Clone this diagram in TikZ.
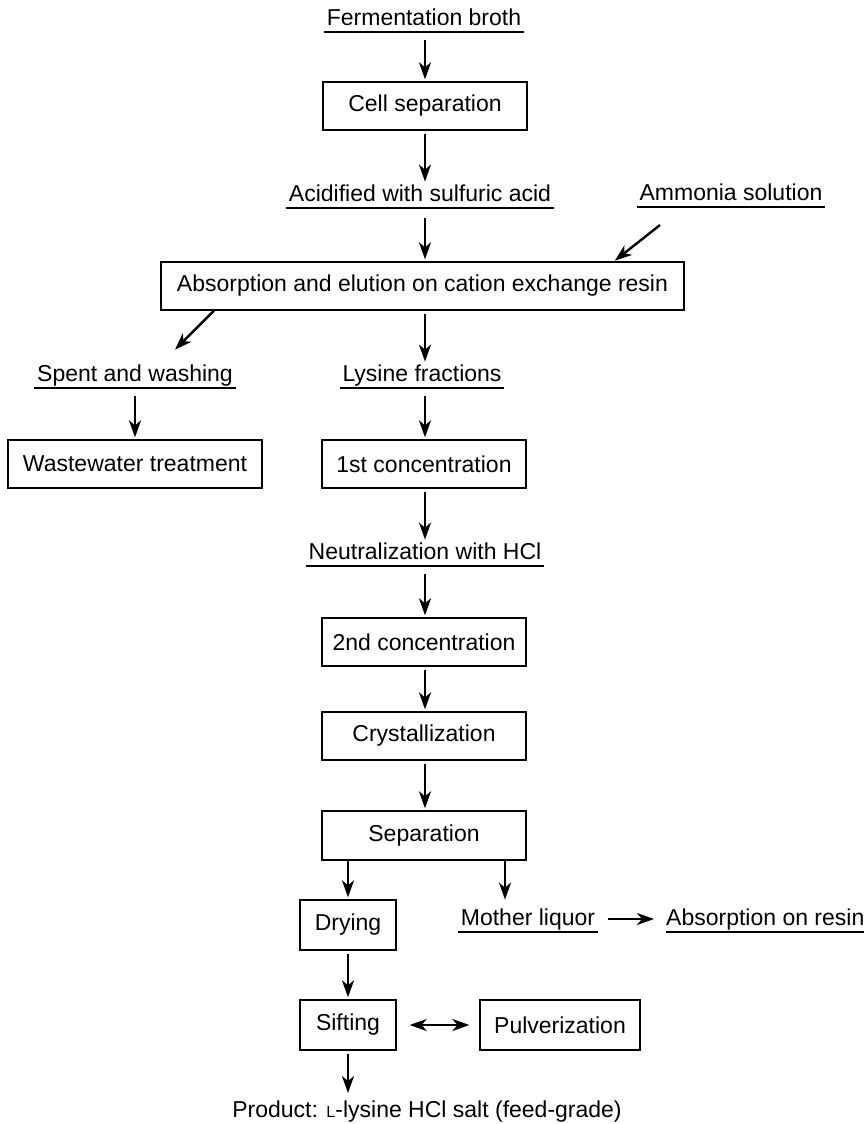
\documentclass[tikz,border=0pt]{standalone}
\usepackage{fontspec}
\setmainfont{Liberation Sans}
\usetikzlibrary{arrows.meta}

\tikzset{
    box/.style={draw, line width=1.3pt, minimum height=48pt, inner sep=0pt},
    ulabel/.style={anchor=south, inner xsep=2.5pt, inner ysep=1pt,
        text height=17pt, text depth=5pt,
        append after command={\pgfextra{\draw[line width=1.1pt]
            (\tikzlastnode.south west) -- (\tikzlastnode.south east);}}},
    tip/.tip={Stealth[length=17pt,width=12pt,inset=5pt]},
    flow/.style={-tip, line width=2.4pt, shorten <=3pt, shorten >=2pt},
    twoway/.style={tip-tip, line width=2.4pt},
}

\begin{document}
\begin{tikzpicture}[x=1pt, y=-1pt, font=\fontsize{23}{26}\selectfont]
    \useasboundingbox (0,0) rectangle (864,1124);

    % top part
    \node[ulabel] (broth) at (424,32) {Fermentation broth};
    \node[box, minimum width=204pt] (cell) at (425,106) {Cell separation};
    \node[ulabel] (acid) at (420,208) {Acidified with sulfuric acid};
    \node[ulabel] (amm) at (731,207) {Ammonia solution};
    \node[box, minimum width=523pt] (resin) at (422.5,286) {Absorption and elution on cation exchange resin};

    \draw[flow, shorten <=8pt] (broth.south -| cell.north) -- (cell.north);
    \draw[flow] (cell.south) -- (cell.south |- acid.north);
    \draw[flow, shorten <=10pt] (acid.south -| cell.south) -- (cell.south |- resin.north);
    \draw[flow, shorten <=0pt, shorten >=1pt] ([xshift=-71pt,yshift=-18pt]amm.south) -- ([xshift=191.5pt]resin.north);

    % resin outlets
    \node[ulabel] (spent) at (135,388) {Spent and washing};
    \node[box, minimum width=254pt] (waste) at (135,464) {Wastewater treatment};
    \node[ulabel] (lys) at (422,388) {Lysine fractions};

    \draw[flow, shorten <=0pt, shorten >=0pt] ([xshift=-208.5pt]resin.south) -- ([xshift=40pt,yshift=14pt]spent.north);
    \draw[flow, shorten <=8pt] (spent.south) -- (waste.north);
    \draw[flow] (cell.south |- resin.south) -- (cell.south |- lys.north);

    % main column
    \node[box, minimum width=204pt] (conc1) at (424,464) {1st concentration};
    \node[ulabel] (neut) at (425,566) {Neutralization with HCl};
    \node[box, minimum width=204pt] (conc2) at (424,642) {2nd concentration};
    \node[box, minimum width=204pt] (cryst) at (424,736) {Crystallization};
    \node[box, minimum width=204pt, minimum height=49pt] (sep) at (424,835.5) {Separation};

    \draw[flow, shorten <=8pt] (cell.south |- lys.south) -- (cell.south |- conc1.north);
    \foreach \a/\b in {conc1/neut, conc2/cryst, cryst/sep} {
        \draw[flow] (cell.south |- \a.south) -- (cell.south |- \b.north);
    }
    \draw[flow, shorten <=8pt] (cell.south |- neut.south) -- (cell.south |- conc2.north);

    % bottom part
    \node[box, minimum width=96pt, minimum height=50pt] (dry) at (348,925) {Drying};
    \node[ulabel] (mother) at (528,932) {Mother liquor};
    \node[ulabel, anchor=south west, inner xsep=0pt] (absr) at (666,932) {Absorption on resin};
    \node[box, minimum width=96pt, minimum height=50pt] (sift) at (348,1025) {Sifting};
    \node[box, minimum width=160pt, minimum height=50pt] (pulv) at (560,1025) {Pulverization};
    \node[inner sep=0pt] (prod) at (427,1112) {Product: {\fontsize{16}{18}\selectfont L}-lysine HCl salt (feed-grade)};

    \draw[flow, shorten <=0pt] (dry.north |- sep.south) -- (dry.north);
    \draw[flow, shorten <=0pt, shorten >=8pt] ([xshift=81pt]sep.south) -- ([xshift=81pt]sep.south |- mother.north);
    \draw[flow, shorten <=10pt, shorten >=12pt] ([yshift=13pt]mother.south east) -- ([yshift=13pt]absr.south west);
    \draw[flow] (dry.south) -- (sift.north);
    \draw[twoway, shorten <=13pt, shorten >=10pt] (sift.east) -- (pulv.west);
    \draw[flow, shorten >=8pt] (sift.south) -- (sift.south |- prod.north);
\end{tikzpicture}
\end{document}
